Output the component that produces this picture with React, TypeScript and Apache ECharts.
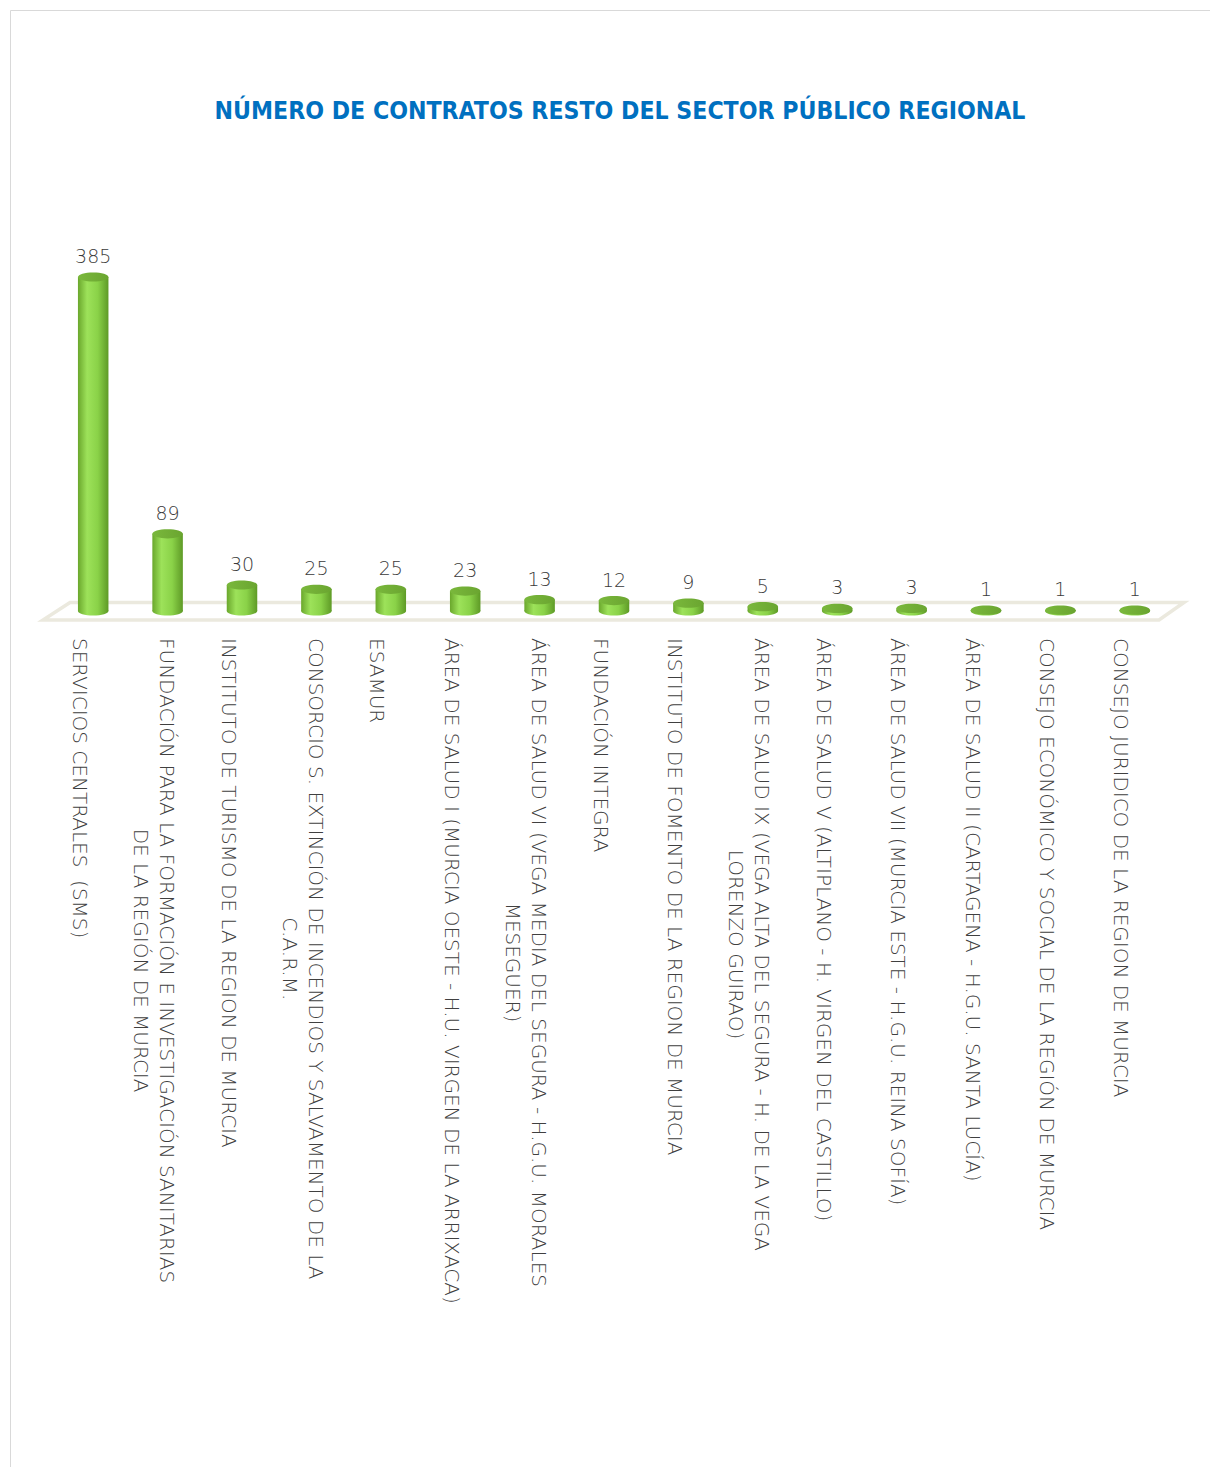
import React, { useEffect, useRef } from "react";
import * as echarts from "echarts";

const TITLE = "NÚMERO DE CONTRATOS RESTO DEL SECTOR PÚBLICO REGIONAL";

const categories: string[] = [
  "SERVICIOS CENTRALES  (SMS)",
  "FUNDACIÓN PARA LA FORMACIÓN E INVESTIGACIÓN SANITARIAS\nDE LA REGIÓN DE MURCIA",
  "INSTITUTO DE TURISMO DE LA REGION DE MURCIA",
  "CONSORCIO S. EXTINCIÓN DE INCENDIOS Y SALVAMENTO DE LA\nC.A.R.M.",
  "ESAMUR",
  "ÁREA DE SALUD I (MURCIA OESTE - H.U. VIRGEN DE LA ARRIXACA)",
  "ÁREA DE SALUD VI (VEGA MEDIA DEL SEGURA - H.G.U. MORALES\nMESEGUER)",
  "FUNDACIÓN INTEGRA",
  "INSTITUTO DE FOMENTO DE LA REGION DE MURCIA",
  "ÁREA DE SALUD IX (VEGA ALTA DEL SEGURA - H. DE LA VEGA\nLORENZO GUIRAO)",
  "ÁREA DE SALUD V (ALTIPLANO - H. VIRGEN DEL CASTILLO)",
  "ÁREA DE SALUD VII (MURCIA ESTE - H.G.U. REINA SOFÍA)",
  "ÁREA DE SALUD II (CARTAGENA - H.G.U. SANTA LUCÍA)",
  "CONSEJO ECONÓMICO Y SOCIAL DE LA REGIÓN DE MURCIA",
  "CONSEJO JURIDICO DE LA REGION DE MURCIA",
];

const values: number[] = [385, 89, 30, 25, 25, 23, 13, 12, 9, 5, 3, 3, 1, 1, 1];

const FONT = '"DejaVu Sans", sans-serif';

export default function App() {
  const ref = useRef<HTMLDivElement>(null);

  useEffect(() => {
    if (!ref.current) return;
    const chart = echarts.init(ref.current, null, { renderer: "svg" });

    const gridLeft = 56;
    const gridWidth = 1116;
    const gridTop = 264;
    const gridHeight = 347;
    const labelShift = 13.5;
    const y0 = gridTop + gridHeight;
    const gr = gridLeft + gridWidth;

    const bodyGrad = new echarts.graphic.LinearGradient(0, 0, 1, 0, [
      { offset: 0, color: "#6aa72c" },
      { offset: 0.3, color: "#9de25a" },
      { offset: 0.65, color: "#8ad248" },
      { offset: 1, color: "#5e9a26" },
    ]);
    const topGrad = new echarts.graphic.LinearGradient(0, 0, 1, 0, [
      { offset: 0, color: "#7ab83c" },
      { offset: 1, color: "#6aa530" },
    ]);

    const renderItem = (params: any, api: any) => {
      const idx = api.value(0);
      const v = api.value(1);
      const top = api.coord([idx, v]);
      const base = api.coord([idx, 0]);
      const band = api.size([1, 0])[0];
      const w = band * 0.41;
      const rx = w / 2;
      const ry = 4.6;
      const cx = top[0];
      return {
        type: "group",
        children: [
          { type: "ellipse", shape: { cx, cy: base[1], rx, ry }, style: { fill: bodyGrad } },
          {
            type: "rect",
            shape: { x: cx - rx, y: top[1], width: w, height: base[1] - top[1] },
            style: { fill: bodyGrad },
          },
          { type: "ellipse", shape: { cx, cy: top[1], rx, ry }, style: { fill: topGrad } },
          {
            type: "text",
            style: {
              x: cx,
              y: top[1] - 21,
              text: String(v),
              align: "center",
              verticalAlign: "middle",
              fill: "#3a3a3a",
              fontSize: 19,
              fontWeight: 300,
              fontFamily: FONT,
            },
          },
        ],
      };
    };

    chart.setOption({
      animation: false,
      backgroundColor: "#ffffff",
      title: {
        text: TITLE,
        left: 620,
        top: 98,
        textAlign: "center",
        padding: 0,
        textStyle: {
          color: "#0070c0",
          fontWeight: "bold",
          fontSize: 24.6,
          fontFamily: '"DejaVu Sans Condensed", "DejaVu Sans", sans-serif',
        },
      },
      graphic: [
        {
          type: "rect",
          z: -10,
          shape: { x: 10.5, y: 10.5, width: 1240, height: 1500 },
          style: { fill: "#ffffff", stroke: "#d9d9d9", lineWidth: 1 },
        },
        {
          type: "polygon",
          z: 0,
          shape: {
            points: [
              [gridLeft + 14, y0 - 8.5],
              [gr + 12, y0 - 8.5],
              [gr - 13, y0 + 9],
              [gridLeft - 13, y0 + 9],
            ],
          },
          style: { fill: "#ffffff", stroke: "#ebe9de", lineWidth: 3.5 },
        },
      ],
      grid: [
        { left: gridLeft, top: gridTop, width: gridWidth, height: gridHeight },
        { left: gridLeft - labelShift, top: gridTop, width: gridWidth, height: gridHeight },
      ],
      xAxis: [
        { type: "category", data: categories, gridIndex: 0, show: false },
        {
          type: "category",
          data: categories,
          gridIndex: 1,
          axisLine: { show: false },
          axisTick: { show: false },
          splitLine: { show: false },
          axisLabel: {
            interval: 0,
            rotate: -90,
            margin: 27,
            formatter: (v: string) =>
              v
                .split("\n")
                .map((l) => "{c|" + l + "}")
                .join("\n"),
            rich: {
              c: {
                align: "center",
                fontSize: 20,
                fontWeight: 300,
                fontFamily: FONT,
                color: "#404040",
                lineHeight: 26,
              },
            },
          },
        },
      ],
      yAxis: [
        { type: "value", min: 0, max: 400, gridIndex: 0, show: false },
        { type: "value", min: 0, max: 1, gridIndex: 1, show: false },
      ],
      series: [
        {
          type: "custom",
          xAxisIndex: 0,
          yAxisIndex: 0,
          z: 5,
          renderItem,
          data: values.map((v, i) => [i, v]),
        },
      ],
    });

    return () => chart.dispose();
  }, []);

  return (
    <div
      ref={ref}
      style={{ position: "absolute", left: 0, top: 0, width: 1210, height: 1467 }}
    />
  );
}
